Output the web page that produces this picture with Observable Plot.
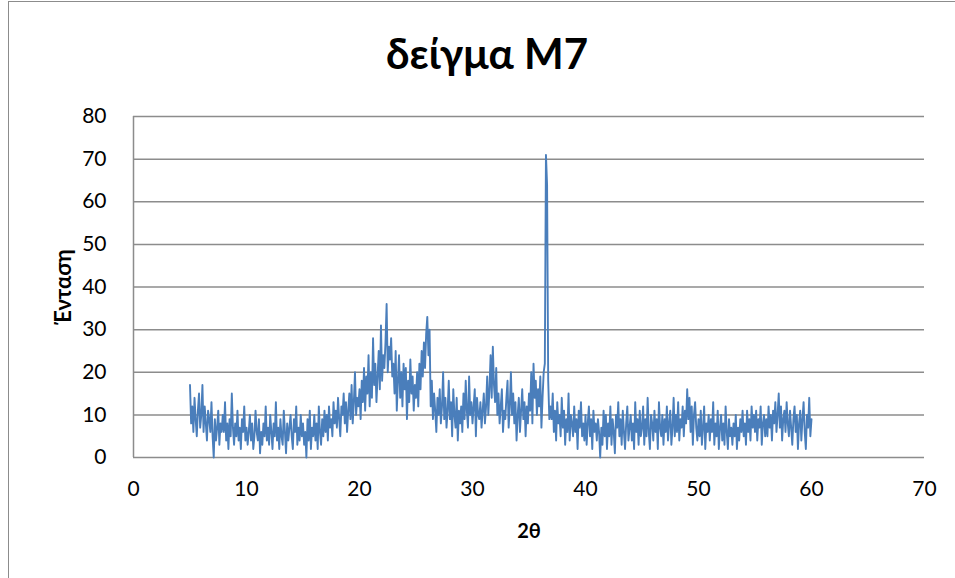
<!DOCTYPE html>
<html><head><meta charset="utf-8">
<script src="https://cdn.jsdelivr.net/npm/d3@7"></script>
<script src="https://cdn.jsdelivr.net/npm/@observablehq/plot@0.6"></script>
<style>
body{margin:0;background:#fff;font-family:Lato,"Open Sans",sans-serif;}
#wrap{position:relative;width:955px;height:578px;overflow:hidden;background:#fff}
#frame{position:absolute;left:8px;top:1px;width:1200px;height:1200px;border-left:1.5px solid #8c8c8c;border-top:1.5px solid #8c8c8c;box-sizing:border-box;z-index:2;pointer-events:none}
#title{position:absolute;top:28px;left:0;width:974px;text-align:center;font-size:42px;font-weight:bold;line-height:50px;color:#000}
#chart{position:absolute;top:100px;left:0}
</style></head>
<body>
<div id="wrap"><div id="frame"></div><div id="title">δείγμα M7</div><div id="chart"></div></div>
<script>
// 2θ scan from 5.0 to 60.0, step 0.1 (one row per degree)
const startAngle = 5.0;
const stepAngle = 0.1;
const intensityRows = [
  [17, 8, 12, 6, 14, 9, 5, 11, 15, 7],   // 5
  [10, 17, 6, 12, 8, 4, 11, 9, 6, 13],   // 6
  [5, 0, 9, 4, 7, 11, 3, 8, 6, 10],      // 7
  [6, 13, 4, 8, 2, 9, 5, 15, 7, 3],      // 8
  [8, 5, 11, 4, 7, 2, 9, 6, 12, 4],      // 9
  [7, 3, 6, 10, 4, 8, 2, 5, 11, 6],      // 10
  [4, 9, 1, 6, 3, 8, 5, 12, 4, 7],       // 11
  [3, 10, 6, 2, 8, 5, 13, 4, 7, 2],      // 12
  [9, 5, 3, 11, 6, 1, 8, 4, 7, 10],      // 13
  [5, 2, 9, 6, 12, 3, 7, 4, 10, 5],      // 14
  [8, 3, 6, 0, 9, 4, 11, 2, 7, 5],       // 15
  [10, 4, 8, 2, 12, 6, 3, 9, 5, 11],     // 16
  [6, 10, 4, 12, 7, 9, 5, 13, 8, 11],    // 17
  [7, 14, 9, 5, 12, 10, 15, 8, 13, 6],   // 18
  [11, 15, 9, 17, 8, 13, 20, 10, 14, 12],// 19
  [16, 9, 18, 13, 21, 11, 19, 15, 24, 12],// 20
  [20, 14, 28, 17, 22, 13, 19, 25, 16, 31],// 21
  [18, 24, 21, 27, 36, 20, 26, 23, 28, 19],// 22
  [22, 15, 25, 11, 18, 24, 14, 20, 12, 22],// 23
  [16, 21, 9, 18, 13, 23, 15, 19, 11, 17],// 24
  [14, 20, 12, 22, 16, 25, 19, 27, 21, 29],// 25
  [33, 24, 30, 12, 18, 9, 15, 11, 6, 14],// 26
  [10, 16, 8, 12, 20, 9, 14, 7, 11, 18], // 27
  [9, 13, 5, 16, 10, 7, 14, 4, 11, 8],   // 28
  [12, 6, 15, 9, 18, 11, 7, 19, 10, 13], // 29
  [8, 12, 16, 5, 14, 10, 9, 13, 7, 11],  // 30
  [15, 8, 12, 19, 10, 16, 24, 14, 26, 17],// 31
  [13, 21, 10, 15, 8, 12, 16, 6, 11, 9], // 32
  [14, 18, 7, 12, 20, 10, 15, 8, 13, 4], // 33
  [10, 14, 6, 11, 16, 9, 13, 5, 12, 8],  // 34
  [15, 11, 20, 8, 22, 14, 18, 10, 16, 12],// 35
  [19, 7, 14, 20, 22, 71, 64, 18, 9, 12],// 36
  [9, 15, 6, 11, 4, 13, 8, 10, 5, 14],   // 37
  [7, 11, 3, 9, 6, 15, 4, 10, 8, 5],     // 38
  [12, 6, 9, 2, 11, 7, 13, 5, 8, 4],     // 39
  [10, 3, 8, 12, 5, 9, 2, 11, 6, 8],     // 40
  [4, 9, 6, 0, 7, 3, 11, 5, 10, 2],      // 41
  [8, 5, 12, 3, 9, 6, 1, 10, 7, 13],     // 42
  [5, 9, 3, 11, 6, 2, 8, 12, 4, 7],      // 43
  [10, 4, 8, 2, 13, 6, 9, 3, 11, 5],     // 44
  [7, 12, 3, 9, 5, 14, 6, 2, 10, 8],     // 45
  [4, 11, 6, 9, 2, 13, 7, 5, 10, 3],     // 46
  [9, 6, 12, 4, 8, 11, 3, 7, 14, 5],     // 47
  [10, 6, 13, 4, 9, 7, 12, 5, 11, 8],    // 48
  [16, 9, 14, 6, 12, 3, 10, 13, 7, 4],   // 49
  [9, 5, 11, 3, 7, 12, 2, 8, 6, 10],     // 50
  [4, 9, 6, 13, 3, 8, 5, 11, 2, 7],      // 51
  [10, 4, 8, 3, 12, 6, 2, 9, 5, 7],      // 52
  [3, 8, 5, 10, 2, 7, 4, 9, 6, 11],      // 53
  [5, 8, 3, 11, 6, 9, 4, 12, 7, 10],     // 54
  [6, 11, 4, 9, 7, 12, 3, 8, 10, 5],     // 55
  [9, 5, 12, 7, 10, 4, 11, 8, 13, 6],    // 56
  [10, 15, 7, 12, 4, 9, 11, 6, 13, 8],   // 57
  [5, 11, 7, 3, 9, 12, 6, 10, 2, 8],     // 58
  [11, 4, 9, 13, 6, 2, 10, 7, 14, 5],    // 59
  [9]                                     // 60
];
const xTicks = [0, 10, 20, 30, 40, 50, 60, 70];
const yTicks = [0, 10, 20, 30, 40, 50, 60, 70, 80];
const xLabel = "2θ";
const yLabel = "Ένταση";

const intensities = intensityRows.flat();
const data = intensities.map((v, i) => ({angle: +(startAngle + i * stepAngle).toFixed(1), intensity: v}));

const grid = "#8c8c8c";
const chart = Plot.plot({
  width: 955,
  height: 478,
  marginLeft: 133,
  marginRight: 31,
  marginTop: 16,
  marginBottom: 121,
  style: {fontFamily: "Lato, 'Open Sans', sans-serif", fontSize: "21px", color: "#000", background: "transparent"},
  x: {domain: [0, 70]},
  y: {domain: [0, 80]},
  marks: [
    Plot.ruleY(yTicks, {stroke: grid, strokeWidth: 1.5}),
    Plot.ruleX([0], {stroke: grid, strokeWidth: 1.5}),
    Plot.axisX({ticks: xTicks, tickSize: 0, tickPadding: 24, fontSize: 21, label: null}),
    Plot.axisY({ticks: yTicks, tickSize: 0, tickPadding: 27, fontSize: 21, label: null}),
    Plot.line(data, {x: "angle", y: "intensity", stroke: "#4a7ebb", strokeWidth: 1.9}),
    Plot.text([xLabel], {frameAnchor: "bottom", dy: 80, fontWeight: "bold", fontSize: 20}),
    Plot.text([yLabel], {frameAnchor: "left", textAnchor: "middle", dx: -70, rotate: -90, fontWeight: "bold", fontSize: 22})
  ]
});
document.getElementById("chart").appendChild(chart);
</script>
</body></html>
